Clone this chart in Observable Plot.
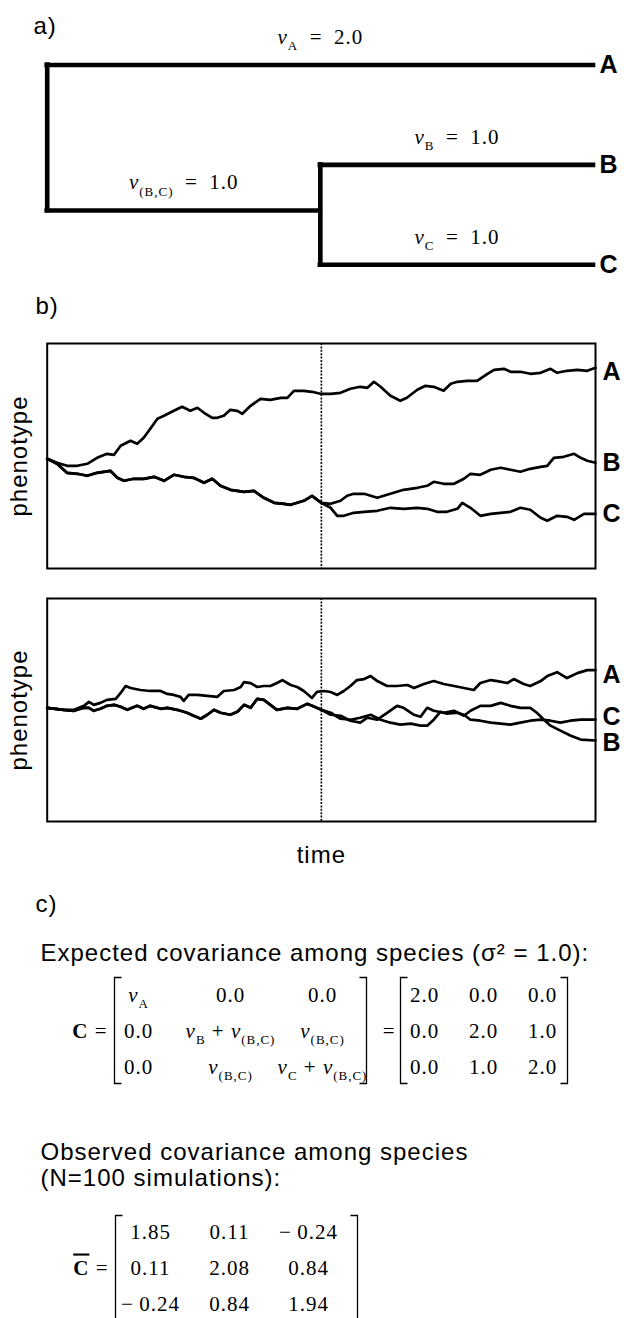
<!DOCTYPE html>
<html>
<head>
<meta charset="utf-8">
<script src="https://cdn.jsdelivr.net/npm/d3@7"></script>
<script src="https://cdn.jsdelivr.net/npm/@observablehq/plot@0.6"></script>
<style>
  html, body { margin: 0; padding: 0; background: #fff; }
  #fig { position: relative; width: 624px; height: 1318px; overflow: hidden; background: #fff; }
  #fig svg { position: absolute; overflow: visible; }
  #fig text { letter-spacing: 1px; }
</style>
</head>
<body>
<div id="fig"></div>
<script>
const SANS = "'Liberation Sans', Arial, sans-serif";
const SERIF = "'Liberation Serif', 'Times New Roman', serif";

// ---------- panel a: tree ----------
const branchNames = ["A", "(B,C)", "B", "C"];
const branchStart = [0, 0, 1, 1];          // branch start (time)
const branchEnd = [2, 1, 2, 2];            // branch end (time)
const branchRow = [0, 1.457, 1, 2];        // vertical position
const branchLabels = ["*v*_{A}\u2002=\u20022.0", "*v*_{(B,C)}\u2002=\u20021.0", "*v*_{B}\u2002=\u20021.0", "*v*_{C}\u2002=\u20021.0"];
const nodeTime = [0, 1];
const nodeTop = [0, 1];
const nodeBottom = [1.457, 2];
const tipNames = ["A", "B", "C"];
const tipRow = [0, 1, 2];

// ---------- panel b: simulated phenotypes (time step, phenotype) ----------
const splitStep = 50;
const topA = [[0,0],[1.8,-0.4],[3.6,-0.7],[5.5,-0.7],[7.3,-0.5],[9.1,0.1],[10.9,0.5],[12.2,0.4],[13.4,1.3],[15.2,1.8],[16.4,1.5],[17.6,2.1],[18.8,3.0],[20.1,4.0],[21.3,4.3],[23.1,4.8],[24.6,5.2],[26.1,4.8],[27.4,5.1],[28.6,4.6],[30.1,4.1],[31.0,4.1],[32.2,4.3],[33.4,4.9],[34.7,4.8],[35.6,4.5],[37.1,5.3],[38.9,6.0],[40.7,5.9],[42.6,6.1],[43.8,6.1],[45.0,6.8],[46.8,6.8],[48.3,6.7],[49.8,6.5],[51.7,6.5],[53.5,6.6],[55.3,7.0],[57.1,7.2],[58.4,7.1],[59.6,7.7],[60.8,7.2],[62.6,6.3],[64.4,5.8],[65.6,6.1],[67.5,6.9],[69.0,7.3],[70.5,7.2],[72.3,6.8],[73.6,7.5],[74.8,7.7],[76.6,7.8],[78.4,7.8],[80.3,8.5],[81.5,8.9],[83.3,9.0],[84.5,8.7],[86.3,8.7],[88.1,8.5],[90.0,8.6],[91.8,9.0],[93.0,8.6],[94.8,8.8],[96.7,8.9],[98.5,8.8],[100,9.1]];
const topStemBC = [[0,0],[1.8,-0.5],[3.6,-1.4],[5.5,-1.5],[7.3,-1.7],[9.1,-1.4],[11.5,-1.2],[12.8,-1.9],[14.0,-2.2],[15.8,-2.0],[17.6,-2.0],[19.5,-1.8],[21.3,-2.2],[23.1,-1.6],[24.9,-1.8],[26.7,-1.9],[28.6,-2.4],[30.1,-2.0],[31.6,-2.7],[33.4,-3.1],[35.9,-3.3],[37.7,-3.2],[39.5,-3.9],[41.4,-4.4],[43.2,-4.5],[44.4,-4.6],[45.6,-4.4],[46.8,-4.2],[48.3,-3.7],[50,-4.4]];
const topB = [[51.7,-4.5],[53.5,-4.2],[54.7,-3.7],[55.9,-3.5],[57.8,-3.5],[60.2,-3.9],[62.0,-3.6],[63.8,-3.3],[65.0,-3.1],[67.5,-2.9],[69.3,-2.7],[70.5,-2.3],[72.3,-2.5],[74.2,-2.5],[76.0,-2.0],[77.2,-1.5],[79.0,-1.6],[80.9,-1.1],[82.7,-0.9],[84.5,-1.1],[86.3,-1.3],[88.1,-1.0],[90.0,-0.8],[91.2,-0.7],[92.4,0.1],[94.2,0.2],[96.1,0.5],[97.3,0.1],[98.5,-0.2],[100,-0.4]];
const topC = [[51.7,-4.9],[52.9,-5.7],[54.1,-5.7],[55.9,-5.4],[57.8,-5.3],[60.2,-5.2],[62.6,-4.9],[65.0,-5.0],[67.5,-4.9],[69.3,-5.0],[71.1,-5.3],[72.9,-5.3],[74.8,-5.0],[75.7,-4.4],[77.2,-4.9],[79.0,-5.7],[80.9,-5.5],[82.7,-5.4],[84.5,-5.3],[86.3,-4.9],[88.1,-5.1],[90.0,-5.9],[91.2,-6.2],[93.0,-5.7],[94.8,-5.8],[96.1,-6.1],[97.9,-5.5],[100,-5.5]];

const bottomA = [[0,0],[3.0,-0.2],[4.9,-0.2],[6.7,0.2],[7.6,0.6],[8.5,0.3],[9.7,0.5],[10.9,0.8],[12.5,0.9],[13.4,1.5],[14.3,2.2],[15.2,2.0],[17.0,1.8],[18.8,1.7],[20.7,1.7],[21.9,1.4],[23.1,1.3],[24.3,1.1],[24.9,0.7],[25.8,1.3],[27.4,1.3],[29.2,1.2],[31.0,1.1],[32.2,1.7],[34.1,1.8],[35.3,2.1],[35.9,2.6],[37.1,2.5],[38.3,2.1],[39.5,2.2],[40.7,2.2],[41.9,2.5],[42.9,2.8],[44.4,2.3],[45.6,2.1],[46.8,1.7],[48.3,1.0],[49.2,1.6],[50.5,1.7],[51.7,1.6],[52.9,1.3],[54.1,1.7],[55.3,2.2],[56.5,2.8],[57.8,2.9],[59.0,3.2],[60.2,2.7],[62.0,2.2],[63.8,2.2],[65.7,2.3],[66.9,2.0],[68.7,2.4],[70.5,2.7],[72.3,2.4],[74.2,2.2],[76.0,2.0],[77.8,1.8],[79.0,2.5],[80.9,2.8],[82.1,2.7],[83.9,2.5],[85.1,2.9],[86.9,2.4],[88.1,2.2],[90.0,2.7],[91.2,3.2],[93.0,3.6],[94.8,3.0],[96.7,3.5],[98.5,3.8],[100,3.8]];
const bottomStemBC = [[0,0],[3.0,-0.2],[4.9,-0.3],[6.7,0.0],[7.6,0.0],[8.5,-0.3],[9.7,-0.1],[10.9,0.2],[12.2,0.3],[13.4,0.1],[14.6,-0.2],[16.4,0.2],[17.6,-0.1],[18.8,0.2],[20.7,-0.1],[21.9,0.0],[23.7,-0.2],[25.5,-0.5],[26.7,-0.8],[28.0,-1.1],[29.2,-0.7],[30.4,-0.2],[31.6,-0.5],[33.4,-0.7],[34.7,-0.4],[35.9,0.3],[37.1,0.0],[38.3,0.9],[39.5,0.8],[40.7,0.3],[41.9,-0.2],[43.8,0.0],[45.6,-0.1],[47.4,0.4],[48.3,0.2],[50,-0.2]];
const bottomB = [[51.7,-0.7],[53.5,-0.8],[55.3,-1.3],[57.1,-1.5],[58.4,-1.0],[60.2,-1.2],[62.0,-0.5],[63.8,0.2],[65.0,0.0],[66.9,-0.7],[68.1,-0.9],[69.3,0.0],[70.5,-0.3],[72.3,-0.5],[74.2,-0.3],[76.0,-0.8],[77.2,-0.3],[79.0,0.2],[80.9,0.2],[82.7,0.5],[84.5,0.2],[86.3,0.0],[88.1,0.0],[89.3,-0.5],[90.6,-1.2],[91.8,-1.8],[93.6,-2.3],[95.4,-2.8],[97.3,-3.2],[100,-3.3]];
const bottomC = [[51.7,-0.5],[53.5,-1.1],[55.3,-1.2],[57.1,-1.0],[59.0,-0.7],[60.8,-1.2],[62.6,-1.5],[64.4,-1.7],[66.3,-1.6],[68.1,-1.8],[69.3,-1.8],[70.5,-1.2],[71.7,-0.4],[72.9,-0.6],[74.8,-0.5],[76.0,-0.7],[77.2,-1.2],[79.0,-1.3],[80.9,-1.5],[82.7,-1.6],[84.5,-1.7],[86.3,-1.5],[88.1,-1.3],[90.0,-1.2],[91.8,-1.3],[93.6,-1.5],[95.4,-1.3],[97.3,-1.2],[100,-1.2]];

// tip-label positions (phenotype units) as read beside each panel's line ends
const tipLabelNames = ["A", "B", "C"];
const topTipLabelY = [8.7, -0.4, -5.5];
const bottomTipLabelY = [3.3, -3.5, -0.9];

// ---------- panel c: covariance matrices ----------
const matrixIndex = [0, 1, 2];
const expectedSymbolic = [
  ["*v*_{A}", "0.0", "0.0"],
  ["0.0", "*v*_{B} + *v*_{(B,C)}", "*v*_{(B,C)}"],
  ["0.0", "*v*_{(B,C)}", "*v*_{C} + *v*_{(B,C)}"]
];
const expectedValues = [[2.0, 0.0, 0.0], [0.0, 2.0, 1.0], [0.0, 1.0, 2.0]];
const observedValues = [[1.85, 0.11, -0.24], [0.11, 2.08, 0.84], [-0.24, 0.84, 1.94]];
const headingExpected = "Expected covariance among species (σ² = 1.0):";
const headingObserved1 = "Observed covariance among species";
const headingObserved2 = "(N=100 simulations):";

// ---------- helpers ----------
const fig = document.getElementById("fig");
const baseStyle = {background: "transparent", overflow: "visible", fontFamily: SANS, color: "black"};

function place(svg, left, top) {
  svg.style.position = "absolute";
  svg.style.left = left + "px";
  svg.style.top = top + "px";
  svg.style.maxWidth = "none";
  fig.appendChild(svg);
  richify(svg);
  return svg;
}

// convert *italic*, _{subscript}, #bold#, ~overlined bold~ markup into tspans
function richify(svg) {
  d3.select(svg).selectAll("text").each(function () {
    const s = this.textContent;
    if (s === "phenotype") { this.setAttribute("letter-spacing", "2px"); return; }
    if (!/[*#~]|_\{/.test(s)) return;
    const tokens = s.split(/(\*[^*]+\*|_\{[^}]+\}|#[^#]+#|~[^~]+~)/).filter(d => d);
    const fs = parseFloat(getComputedStyle(this).fontSize) || 20;
    const sh = 0.3 * fs;
    const el = d3.select(this);
    el.text(null);
    let shifted = false;
    for (const tok of tokens) {
      const ts = el.append("tspan");
      let txt = tok, sub = false;
      if (tok[0] === "*") { txt = tok.slice(1, -1); ts.attr("font-style", "italic"); }
      else if (tok.startsWith("_{")) { txt = tok.slice(2, -1); sub = true; ts.attr("font-size", (0.62 * fs).toFixed(1)); }
      else if (tok[0] === "#") { txt = tok.slice(1, -1); ts.attr("font-weight", "bold"); }
      else if (tok[0] === "~") { txt = tok.slice(1, -1); ts.attr("font-weight", "bold").style("text-decoration", "overline"); }
      if (sub && !shifted) { ts.attr("dy", sh); shifted = true; }
      else if (!sub && shifted) { ts.attr("dy", -sh); shifted = false; }
      ts.text(txt);
    }
  });
}

// ---------- panel a ----------
const branches = branchNames.map((name, i) => ({name, from: branchStart[i], to: branchEnd[i], row: branchRow[i], label: branchLabels[i]}));
const nodes = nodeTime.map((t, i) => ({t, top: nodeTop[i], bottom: nodeBottom[i]}));
const tips = tipNames.map((name, i) => ({name, row: tipRow[i], t: d3.max(branchEnd)}));

const treePlot = Plot.plot({
  width: 624, height: 290,
  marginLeft: 46.7, marginRight: 31, marginTop: 64.5, marginBottom: 25.8,
  x: {domain: [0, 2], axis: null},
  y: {domain: [0, 2], reverse: true, axis: null},
  style: baseStyle,
  marks: [
    Plot.ruleY(branches, {y: "row", x1: "from", x2: "to", strokeWidth: 4.6, strokeLinecap: "square"}),
    Plot.ruleX(nodes, {x: "t", y1: "top", y2: "bottom", strokeWidth: 4.6, strokeLinecap: "square"}),
    Plot.text(tips, {x: "t", y: "row", text: "name", dx: 6, textAnchor: "start", lineAnchor: "middle", fontSize: 25, fontWeight: "bold"}),
    Plot.text(branches, {x: d => (d.from + d.to) / 2, y: "row", text: "label", dy: -21, lineAnchor: "bottom", fontFamily: SERIF, fontSize: 21}),
    Plot.text(["a)"], {frameAnchor: "top-left", text: d => d, dx: -13.7, dy: -31.5, textAnchor: "start", lineAnchor: "bottom", fontSize: 24})
  ]
});
place(treePlot, 0, 0);

// ---------- panel b ----------
function walkRows(series) {
  const rows = [];
  for (const [label, parts] of series) for (const part of parts) for (const [t, v] of part) rows.push({series: label, t, v});
  return rows;
}
const topRows = walkRows([["A", [topA]], ["B", [topStemBC, topB]], ["C", [topStemBC, topC]]]);
const bottomRows = walkRows([["A", [bottomA]], ["B", [bottomStemBC, bottomB]], ["C", [bottomStemBC, bottomC]]]);
const tipLabels = ys => tipLabelNames.map((name, i) => ({name, t: 100, v: ys[i]}));

function walkPlot(rows, labelYs, yDomain, height, marginTop, marginBottom, extra) {
  return Plot.plot({
    width: 624, height,
    marginLeft: 46.7, marginRight: 29, marginTop, marginBottom,
    x: {domain: [0, 100], axis: null},
    y: {domain: yDomain, axis: null},
    style: baseStyle,
    marks: [
      Plot.frame({strokeWidth: 2}),
      Plot.ruleX([splitStep], {strokeWidth: 1.6, strokeDasharray: "2,1.4"}),
      Plot.line(rows, {x: "t", y: "v", z: "series", strokeWidth: 2.7, strokeLinejoin: "round"}),
      Plot.text(tipLabels(labelYs), {x: "t", y: "v", text: "name", dx: 7, textAnchor: "start", lineAnchor: "middle", fontSize: 25, fontWeight: "bold"}),
      Plot.text(["phenotype"], {frameAnchor: "left", text: d => d, rotate: -90, dx: -20.7, textAnchor: "middle", lineAnchor: "bottom", fontSize: 24}),
      ...extra
    ]
  });
}
place(walkPlot(topRows, topTipLabelY, [-10.97, 11.53], 293, 58, 10, [
  Plot.text(["b)"], {frameAnchor: "top-left", text: d => d, dx: -11.7, dy: -30, textAnchor: "start", lineAnchor: "bottom", fontSize: 24})
]), 0, 285);
place(walkPlot(bottomRows, bottomTipLabelY, [-11.47, 11.03], 290, 10, 57, [
  Plot.text(["time"], {frameAnchor: "bottom", text: d => d, dy: 41, lineAnchor: "bottom", fontSize: 24})
]), 0, 588);

// ---------- panel c ----------
function cells(matrix, fmt) {
  const out = [];
  matrixIndex.forEach(r => matrixIndex.forEach(c => out.push({row: r, col: c, label: fmt(matrix[r][c])})));
  return out;
}
const fmtNum = digits => v => (v < 0 ? "\u2212\u2009" : "") + Math.abs(v).toFixed(digits);

function matrixPlot(data, width, height, insets, extra) {
  const s = 7;
  return Plot.plot({
    width, height, margin: 0,
    insetLeft: insets[0], insetRight: insets[1], insetTop: insets[2], insetBottom: insets[3],
    x: {type: "point", domain: matrixIndex, padding: 0, axis: null},
    y: {type: "point", domain: matrixIndex, padding: 0, axis: null},
    style: baseStyle,
    marks: [
      Plot.frame({strokeWidth: 1.3, strokeDasharray: `${s},${width - 2 * s},${height + 2 * s},${width - 2 * s},${height + s}`}),
      Plot.text(data, {x: "col", y: "row", text: "label", lineAnchor: "bottom", fontFamily: SERIF, fontSize: 21}),
      ...extra
    ]
  });
}

place(matrixPlot(cells(expectedSymbolic, d => d), 252, 106, [23, 44, 24, 10], [
  Plot.text(["#C# ="], {frameAnchor: "left", text: d => d, textAnchor: "end", dx: -7, dy: 7, lineAnchor: "bottom", fontFamily: SERIF, fontSize: 21}),
  Plot.text(["c)"], {frameAnchor: "top-left", text: d => d, dx: -79, dy: -66, textAnchor: "start", lineAnchor: "bottom", fontSize: 24}),
  Plot.text([headingExpected], {frameAnchor: "top-left", text: d => d, dx: -74, dy: -17, textAnchor: "start", lineAnchor: "bottom", fontSize: 24})
]), 114, 977);

place(matrixPlot(cells(expectedValues, fmtNum(1)), 167, 106, [23, 25, 24, 10], [
  Plot.text(["="], {frameAnchor: "left", text: d => d, textAnchor: "end", dx: -5, dy: 7, lineAnchor: "bottom", fontFamily: SERIF, fontSize: 21})
]), 400, 977);

place(matrixPlot(cells(observedValues, fmtNum(2)), 242, 104, [35, 49, 22, 9], [
  Plot.text(["~C~ ="], {frameAnchor: "left", text: d => d, textAnchor: "end", dx: -7, dy: 7, lineAnchor: "bottom", fontFamily: SERIF, fontSize: 21}),
  Plot.text([headingObserved1], {frameAnchor: "top-left", text: d => d, dx: -75, dy: -56, textAnchor: "start", lineAnchor: "bottom", fontSize: 24}),
  Plot.text([headingObserved2], {frameAnchor: "top-left", text: d => d, dx: -75, dy: -30, textAnchor: "start", lineAnchor: "bottom", fontSize: 24})
]), 115, 1215);
</script>
</body>
</html>
